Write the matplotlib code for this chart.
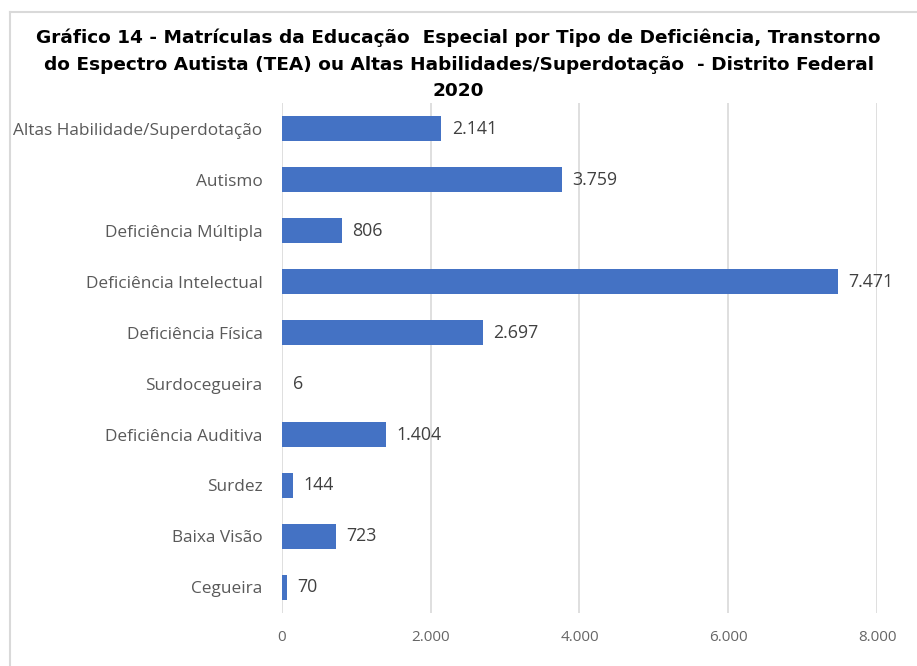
import matplotlib
matplotlib.use("Agg")
import matplotlib.pyplot as plt
from matplotlib.lines import Line2D
from matplotlib.ticker import FuncFormatter

categories = ["Altas Habilidade/Superdotação", "Autismo", "Deficiência Múltipla",
              "Deficiência Intelectual", "Deficiência Física", "Surdocegueira",
              "Deficiência Auditiva", "Surdez", "Baixa Visão", "Cegueira"]
values = [2141, 3759, 806, 7471, 2697, 6, 1404, 144, 723, 70]
xticks = [0, 2000, 4000, 6000, 8000]

title = ("Gráfico 14 - Matrículas da Educação  Especial por Tipo de Deficiência, Transtorno\n"
         "do Espectro Autista (TEA) ou Altas Habilidades/Superdotação  - Distrito Federal\n"
         "2020")

def fmt(v):
    return f"{v:,.0f}".replace(",", ".")

fig = plt.figure(figsize=(9.17, 6.66), dpi=100)
ax = fig.add_axes([0.3075, 0.0796, 0.6489, 0.7657])

n = len(categories)
ypos = list(range(n))[::-1]
ax.barh(ypos, values, height=0.5, color="#4472C4", zorder=3)
ax.set_ylim(-0.5, n - 0.5)
ax.set_xlim(0, 8000)
ax.set_xticks(xticks)
ax.xaxis.set_major_formatter(FuncFormatter(lambda v, p: fmt(v)))
ax.set_yticks(ypos)
ax.set_yticklabels(categories)

lab_font = "Open Sans"
for lbl in ax.get_yticklabels():
    lbl.set_fontfamily(lab_font)
    lbl.set_fontsize(12.4)
    lbl.set_color("#595959")
for lbl in ax.get_xticklabels():
    lbl.set_fontfamily(lab_font)
    lbl.set_fontsize(11)
    lbl.set_color("#666666")

ax.tick_params(axis="both", length=0)
ax.tick_params(axis="y", pad=14)
ax.tick_params(axis="x", pad=12)
ax.grid(axis="x", color="#D9D9D9", linewidth=1.2, zorder=0)
for s in ax.spines.values():
    s.set_visible(False)

for y, v in zip(ypos, values):
    ax.text(v + 140, y, fmt(v), va="center", ha="left", fontsize=12.8,
            family=lab_font, color="#404040", zorder=4)

fig.text(0.5, 0.957, title, ha="center", va="top", fontsize=13.3, fontweight="bold",
         family=["DejaVu Sans"], color="#000000", linespacing=1.6)

fig.add_artist(Line2D([9.5 / 917, 9.5 / 917], [0, 1 - 12 / 666], transform=fig.transFigure,
                      color="#D9D9D9", linewidth=1.5))
fig.add_artist(Line2D([9.5 / 917, 1], [1 - 12 / 666, 1 - 12 / 666], transform=fig.transFigure,
                      color="#D9D9D9", linewidth=1.5))

fig.savefig("out.png", dpi=100)
